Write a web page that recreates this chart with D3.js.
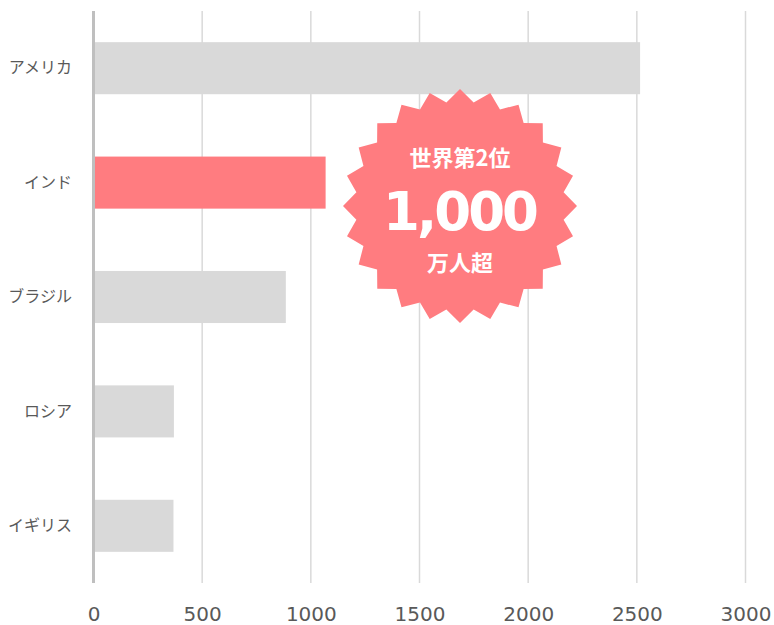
<!DOCTYPE html>
<html>
<head>
<meta charset="utf-8">
<script src="https://cdn.jsdelivr.net/npm/d3@7"></script>
<style>
body { margin: 0; background: #fff; }
</style>
</head>
<body>
<svg width="774" height="625"></svg>
<script>
var countries = ["アメリカ", "インド", "ブラジル", "ロシア", "イギリス"];
var values = [2515, 1068, 885, 370, 368];
var highlight = ["インド"];
var tickValues = [0, 500, 1000, 1500, 2000, 2500, 3000];
var badgeLines = ["世界第2位", "1,000", "万人超"];

function setup()
{
    var svg = d3.select("svg");
    var margin = { left: 93.5, right: 28.5, top: 11, bottom: 42 };
    var width = 774 - margin.left - margin.right;
    var height = 625 - margin.top - margin.bottom;

    var x = d3.scaleLinear().domain([0, 3000]).range([margin.left, margin.left + width]);
    var y = d3.scaleBand().domain(countries)
        .range([margin.top, margin.top + height])
        .paddingInner(0.545).paddingOuter(0.2725);

    // grid lines
    svg.selectAll("line.grid")
        .data(tickValues.slice(1))
        .enter().append("line")
        .attr("class", "grid")
        .attr("x1", function(d) { return x(d); })
        .attr("x2", function(d) { return x(d); })
        .attr("y1", margin.top)
        .attr("y2", margin.top + height)
        .attr("stroke", "#d9d9d9")
        .attr("stroke-width", 1.5);

    // bars
    svg.selectAll("rect.bar")
        .data(countries)
        .enter().append("rect")
        .attr("class", "bar")
        .attr("x", x(0))
        .attr("y", function(d) { return y(d); })
        .attr("width", function(d, i) { return x(values[i]) - x(0); })
        .attr("height", y.bandwidth())
        .attr("fill", function(d) { return highlight.indexOf(d) >= 0 ? "#ff7c80" : "#d9d9d9"; });

    // zero axis line
    svg.append("line")
        .attr("x1", x(0)).attr("x2", x(0))
        .attr("y1", margin.top).attr("y2", margin.top + height)
        .attr("stroke", "#bfbfbf")
        .attr("stroke-width", 3);

    // x tick labels
    var xAxis = d3.axisBottom(x).tickValues(tickValues).tickSize(0).tickPadding(0)
        .tickFormat(function(d) { return d; });
    var gx = svg.append("g")
        .attr("transform", "translate(0," + (margin.top + height) + ")")
        .call(xAxis);
    gx.select(".domain").remove();
    gx.selectAll("text")
        .attr("dy", null)
        .attr("y", 38)
        .attr("fill", "#595959")
        .style("font-family", "'DejaVu Sans', sans-serif")
        .style("font-size", "20px");

    // category labels
    var yAxis = d3.axisLeft(y).tickSize(0).tickPadding(0);
    var gy = svg.append("g")
        .attr("transform", "translate(72,0)")
        .call(yAxis);
    gy.select(".domain").remove();
    gy.selectAll("text")
        .attr("fill", "#595959")
        .style("font-family", "'Noto Sans CJK JP', sans-serif")
        .style("font-size", "16px");

    // starburst badge
    var cx = 460, cy = 206, rOuter = 117, rInner = 104.5, nPoints = 24;
    var pts = [];
    for (var i = 0; i < nPoints * 2; i++)
    {
        var a = i * Math.PI / nPoints;
        var r = i % 2 === 0 ? rOuter : rInner;
        pts.push([cx + r * Math.sin(a), cy - r * Math.cos(a)]);
    }
    svg.append("path")
        .attr("d", d3.line()(pts) + "Z")
        .attr("fill", "#ff7c80");

    svg.append("text")
        .attr("x", cx).attr("y", 166)
        .attr("text-anchor", "middle")
        .attr("fill", "#fff")
        .style("font-family", "'Noto Sans CJK JP', sans-serif")
        .style("font-weight", "bold")
        .style("font-size", "22px")
        .text(badgeLines[0]);
    svg.append("text")
        .attr("x", cx + 1).attr("y", 230)
        .attr("text-anchor", "middle")
        .attr("fill", "#fff")
        .style("font-family", "'DejaVu Sans', sans-serif")
        .style("font-weight", "bold")
        .style("font-size", "53px")
        .attr("textLength", 156)
        .text(badgeLines[1]);
    svg.append("text")
        .attr("x", cx).attr("y", 271)
        .attr("text-anchor", "middle")
        .attr("fill", "#fff")
        .style("font-family", "'Noto Sans CJK JP', sans-serif")
        .style("font-weight", "bold")
        .style("font-size", "22px")
        .text(badgeLines[2]);
}

setup();
</script>
</body>
</html>
